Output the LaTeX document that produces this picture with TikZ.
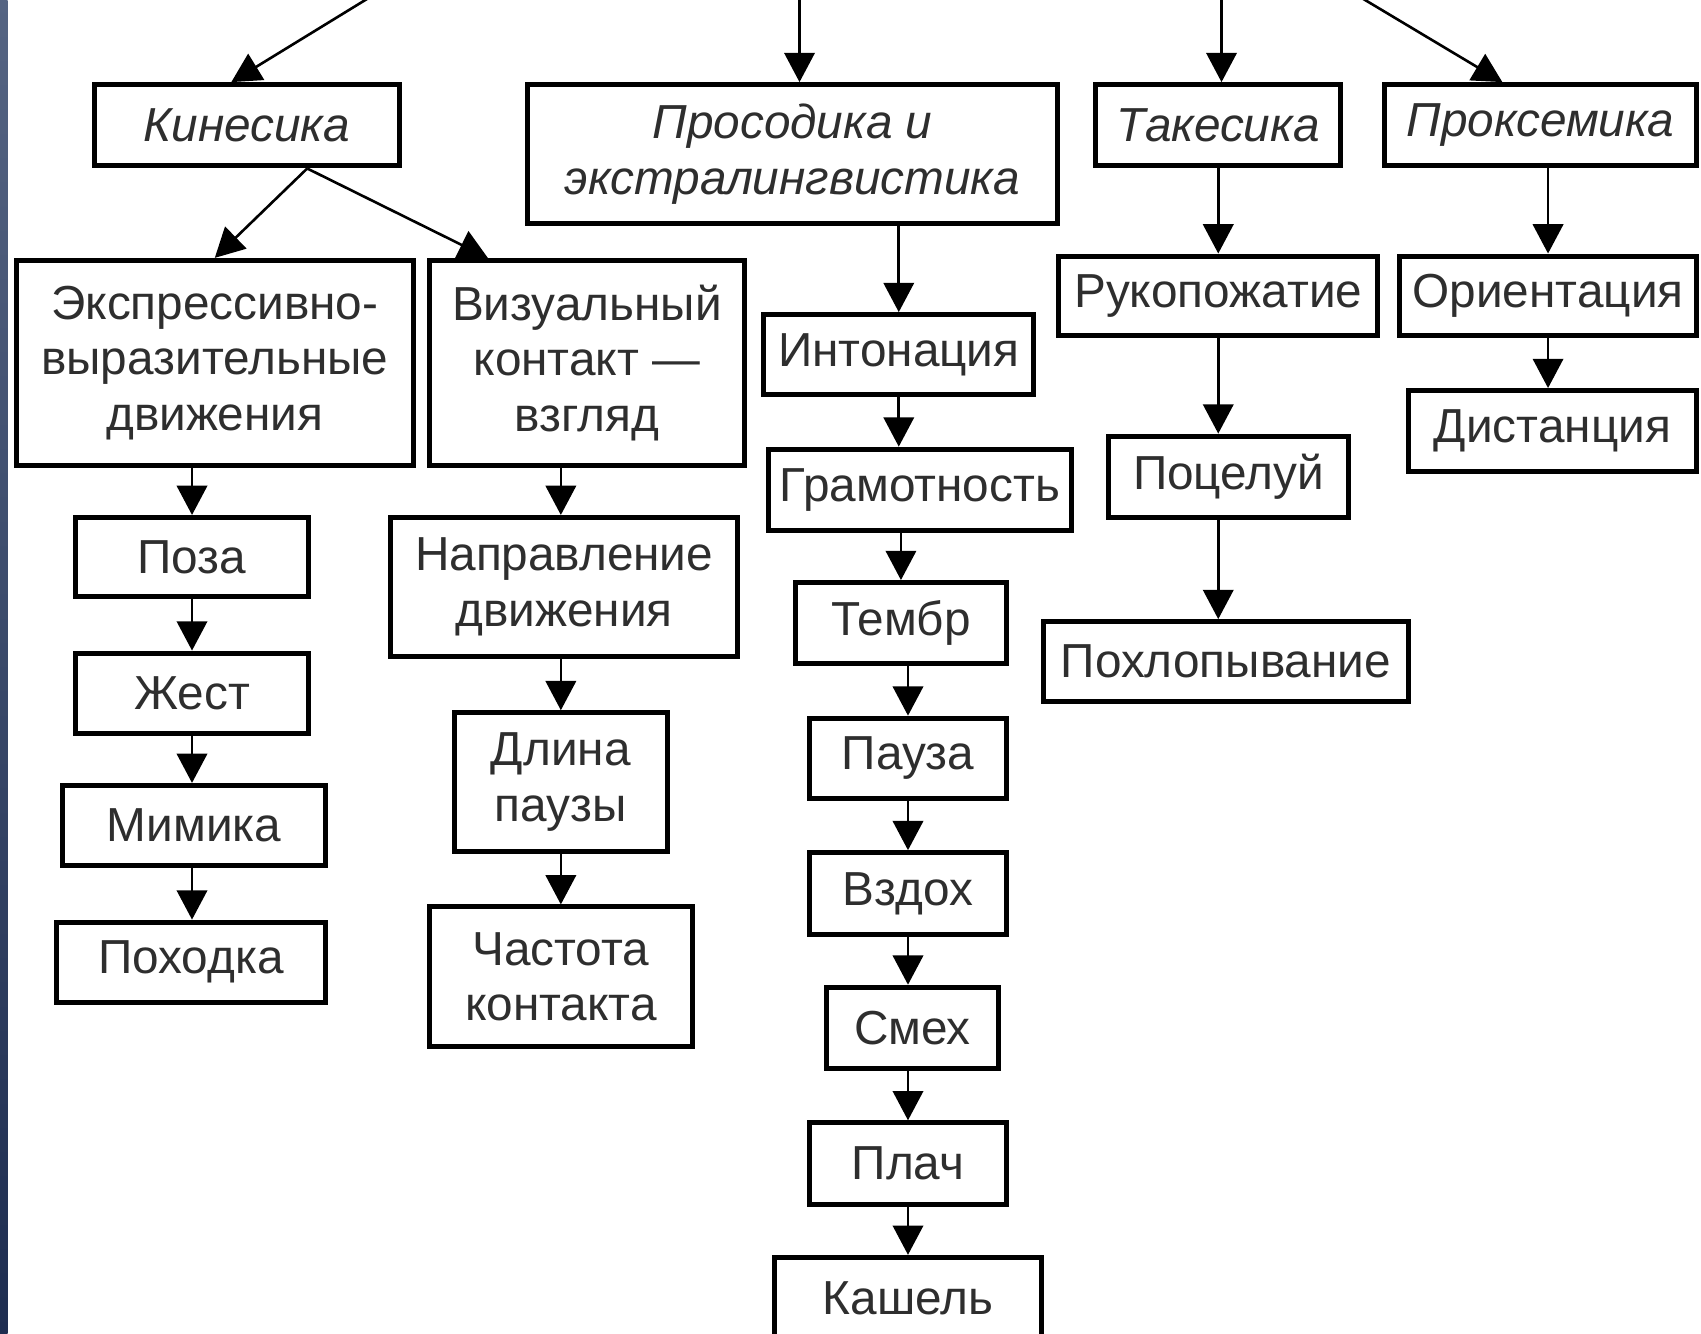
\documentclass[tikz,border=0pt]{standalone}
\usepackage{fontspec}
\setmainfont{Liberation Sans}
\usetikzlibrary{arrows.meta,calc}
\definecolor{txt}{HTML}{2E2E2E}
\definecolor{stripA}{RGB}{85,100,130}
\definecolor{stripB}{RGB}{30,45,80}
\begin{document}
\begin{tikzpicture}[x=1pt,y=-1pt,
  box/.style={draw=black, line width=4.6pt, fill=white, inner sep=0pt, align=center, text=txt,
    font=\fontsize{44}{51}\selectfont},
  ibox/.style={box, font=\fontsize{44}{51}\selectfont\itshape},
  arr/.style={line width=2.4pt, -{Triangle[length=27pt,width=28pt]}}]
\useasboundingbox (0,0) rectangle (1568,1229);
\clip (0,0) rectangle (1568,1229);
\fill[white] (0,0) rectangle (1568,1229);
\shade[top color=stripA, bottom color=stripB] (0,0) rectangle (7,1229);

% top level
\node[ibox, minimum width=281pt, minimum height=75pt] (kin) at (227.5,115.5) {Кинесика};
\node[ibox, minimum width=489pt, minimum height=128pt] (pros) at (730.5,142) {Просодика и\\экстралингвистика};
\node[ibox, minimum width=226pt, minimum height=75pt] (tak) at (1123,115.5) {Такесика};
\node[ibox, minimum width=288pt, minimum height=75pt] (prox) at (1420,115.5) {Проксемика};

% kinesics
\node[box, minimum width=366pt, minimum height=189pt] (eks) at (198,334.5) {Экспрессивно-\\выразительные\\движения};
\node[box, minimum width=290pt, minimum height=189pt] (viz) at (541,334.5) {Визуальный\\контакт —\\взгляд};
\node[box, minimum width=214pt, minimum height=73pt] (poza) at (177,513.5) {Поза};
\node[box, minimum width=214pt, minimum height=74pt] (zhest) at (177,639) {Жест};
\node[box, minimum width=242pt, minimum height=74pt] (mim) at (179,761) {Мимика};
\node[box, minimum width=248pt, minimum height=74pt] (pokh) at (176,887) {Походка};
\node[box, minimum width=320pt, minimum height=128pt] (napr) at (520,541) {Направление\\движения};
\node[box, minimum width=196pt, minimum height=128pt] (dlina) at (517,721) {Длина\\паузы};
\node[box, minimum width=242pt, minimum height=129pt] (chast) at (517,900.5) {Частота\\контакта};

% prosody
\node[box, minimum width=249pt, minimum height=74pt] (inton) at (828.5,327) {Интонация};
\node[box, minimum width=280pt, minimum height=75pt] (gram) at (848,451.5) {Грамотность};
\node[box, minimum width=195pt, minimum height=75pt] (temb) at (830.5,574.5) {Тембр};
\node[box, minimum width=182pt, minimum height=74pt] (pauza) at (837,699) {Пауза};
\node[box, minimum width=182pt, minimum height=75pt] (vzdokh) at (837,823.5) {Вздох};
\node[box, minimum width=158pt, minimum height=75pt] (smekh) at (841,947.5) {Смех};
\node[box, minimum width=182pt, minimum height=75pt] (plach) at (837,1072.5) {Плач};
\node[box, minimum width=246pt, minimum height=76pt] (kash) at (837,1197) {Кашель};

% takesics
\node[box, minimum width=294pt, minimum height=73pt] (ruk) at (1123,272.5) {Рукопожатие};
\node[box, minimum width=221pt, minimum height=75pt] (poc) at (1132.5,439.5) {Поцелуй};
\node[box, minimum width=336pt, minimum height=74pt] (pokhl) at (1130,610) {Похлопывание};

% proxemics
\node[box, minimum width=274pt, minimum height=73pt] (orient) at (1427,272.5) {Ориентация};
\node[box, minimum width=266pt, minimum height=75pt] (dist) at (1431,397.5) {Дистанция};

% connectors from the (cut-off) title
\coordinate (t1) at (340,-2);
\coordinate (t2) at (737,-2);
\coordinate (t3) at (1126,-2);
\coordinate (t4) at (1255,-2);
\draw[arr] (t1) -- ($(kin.north west)!0.45!(kin.north east)$);
\draw[arr] (t2) -- (t2 |- pros.north);
\draw[arr] (t3) -- (t3 |- tak.north);
\draw[arr] (t4) -- ($(prox.north west)!0.38!(prox.north east)$);

% kinesics
\coordinate (ks) at ($(kin.south west)!0.695!(kin.south east)$);
\draw[arr] (ks) -- (eks.north);
\draw[arr] (ks) -- ($(viz.north west)!0.19!(viz.north east)$);
\draw[arr] (poza.north |- eks.south) -- (poza.north);
\draw[arr] (poza.south) -- (zhest.north);
\draw[arr] (zhest.south) -- (zhest.south |- mim.north);
\draw[arr] (zhest.south |- mim.south) -- (zhest.south |- pokh.north);
\draw[arr] (dlina.north |- viz.south) -- (dlina.north |- napr.north);
\draw[arr] (dlina.north |- napr.south) -- (dlina.north);
\draw[arr] (dlina.south) -- (dlina.south |- chast.north);

% prosody
\draw[arr] (inton.north |- pros.south) -- (inton.north);
\draw[arr] (inton.south) -- (inton.south |- gram.north);
\draw[arr] (temb.north |- gram.south) -- (temb.north);
\draw[arr] (pauza.north |- temb.south) -- (pauza.north);
\draw[arr] (pauza.south) -- (vzdokh.north);
\draw[arr] (vzdokh.south) -- (vzdokh.south |- smekh.north);
\draw[arr] (vzdokh.south |- smekh.south) -- (plach.north);
\draw[arr] (plach.south) -- (kash.north);

% takesics
\draw[arr] (tak.south) -- (ruk.north);
\draw[arr] (ruk.south) -- (ruk.south |- poc.north);
\draw[arr] (ruk.south |- poc.south) -- (ruk.south |- pokhl.north);

% proxemics
\draw[arr] (orient.north |- prox.south) -- (orient.north);
\draw[arr] (orient.south) -- (orient.south |- dist.north);
\end{tikzpicture}
\end{document}
